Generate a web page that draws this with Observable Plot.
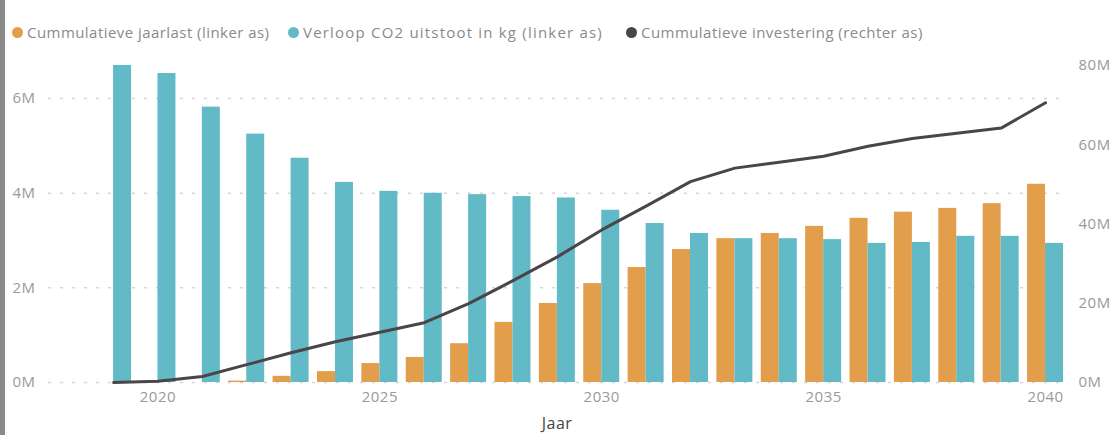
<!DOCTYPE html>
<html>
<head>
<meta charset="utf-8">
<script src="https://cdn.jsdelivr.net/npm/d3@7"></script>
<script src="https://cdn.jsdelivr.net/npm/@observablehq/plot@0.6"></script>
<style>
  html, body { margin: 0; padding: 0; background: #fff; }
  #wrap { position: relative; width: 1114px; height: 435px; overflow: hidden; font-family: "Open Sans", sans-serif; }
  #strip { position: absolute; left: 0; top: 0; width: 5px; height: 435px; background: #8a8a8a; }
  #legend { position: absolute; left: 12px; top: 22px; display: flex; align-items: center; font-size: 15px; letter-spacing: 0.45px; color: #8a8a8a; white-space: nowrap; }
  .item { display: flex; align-items: center; }
  .item:nth-child(1) { width: 276px; }
  .item:nth-child(2) { width: 338px; letter-spacing: 1.2px; }
  .dot { width: 11px; height: 11px; border-radius: 50%; margin-right: 4px; flex: none; }
  #chart { position: absolute; left: 0; top: 0; }
  #chart svg text { letter-spacing: 0.5px; }
</style>
</head>
<body>
<div id="wrap">
  <div id="chart"></div>
  <div id="strip"></div>
  <div id="legend"></div>
</div>
<script>
// ---- data ----
const years = [2019, 2020, 2021, 2022, 2023, 2024, 2025, 2026, 2027, 2028, 2029, 2030,
               2031, 2032, 2033, 2034, 2035, 2036, 2037, 2038, 2039, 2040];
// Cummulatieve jaarlast (linker as), in miljoen
const jaarlast = [0, 0, 0, 0.03, 0.13, 0.23, 0.40, 0.53, 0.82, 1.27, 1.67, 2.09,
                  2.43, 2.81, 3.04, 3.15, 3.30, 3.47, 3.60, 3.68, 3.78, 4.19];
// Verloop CO2 uitstoot in kg (linker as), in miljoen
const co2 = [6.70, 6.53, 5.82, 5.25, 4.74, 4.23, 4.04, 4.00, 3.97, 3.93, 3.90, 3.64,
             3.36, 3.15, 3.04, 3.04, 3.02, 2.94, 2.96, 3.09, 3.09, 2.94];
// Cummulatieve investering (rechter as), in miljoen
const investering = [0, 0.3, 1.5, 4.5, 7.5, 10.3, 12.7, 15.1, 19.9, 25.7, 31.7, 38.5,
                     44.5, 50.7, 54.1, 55.6, 57.1, 59.6, 61.6, 62.9, 64.2, 70.6];

const leftTicks = [0, 2, 4, 6];
const rightTicks = [0, 20, 40, 60, 80];
const xTicks = [2020, 2025, 2030, 2035, 2040];

const seriesNames = ["Cummulatieve jaarlast (linker as)", "Verloop CO2 uitstoot in kg (linker as)", "Cummulatieve investering (rechter as)"];
const colors = ["#E39E4B", "#62BAC7", "#4B4449"];

const leftMax = 6.70e6;
const rightMax = 80e6;
const k = leftMax / rightMax; // maps right-axis values onto the shared y scale

const rows = years.map((y, i) => ({
  year: y,
  jaarlast: jaarlast[i] * 1e6,
  co2: co2[i] * 1e6,
  inv: investering[i] * 1e6
}));

const chart = Plot.plot({
  width: 1114,
  height: 435,
  marginTop: 65,
  marginBottom: 53,
  marginLeft: 48,
  marginRight: 49,
  style: { fontFamily: "'Open Sans', sans-serif", fontSize: "15px", color: "#9a9a9a", background: "transparent" },
  x: { type: "band", domain: years, paddingInner: 0.189, paddingOuter: 0.5525, align: 0.96, round: false },
  y: { domain: [0, leftMax] },
  marks: [
    Plot.gridY(leftTicks.map(d => d * 1e6), { stroke: "#d6d6d6", strokeOpacity: 1, strokeWidth: 1.5, strokeDasharray: "3,9" }),
    Plot.barY(rows, { x: "year", y: "jaarlast", fill: colors[0], insetRight: 18 }),
    Plot.barY(rows, { x: "year", y: "co2", fill: colors[1], insetLeft: 18 }),
    Plot.line(rows, { x: "year", y: d => d.inv * k, stroke: colors[2], strokeWidth: 3 }),
    Plot.axisY({ anchor: "left", ticks: leftTicks.map(d => d * 1e6), tickFormat: d => d / 1e6 + "M", tickSize: 0, tickPadding: 13, label: null }),
    Plot.axisY({ anchor: "right", ticks: rightTicks.map(d => d * 1e6 * k), tickFormat: d => Math.round(d / k / 1e6) + "M", tickSize: 0, tickPadding: 13, label: null }),
    Plot.axisX({ ticks: xTicks, tickFormat: d => String(d), tickSize: 0, tickPadding: 9, label: null }),
    Plot.axisX({ ticks: [], label: "Jaar", labelAnchor: "center", labelArrow: "none", labelOffset: 46, fill: "#444", fontSize: 16 })
  ]
});
document.getElementById("chart").appendChild(chart);

const legend = document.getElementById("legend");
seriesNames.forEach((name, i) => {
  const item = document.createElement("div");
  item.className = "item";
  const dot = document.createElement("span");
  dot.className = "dot";
  dot.style.background = colors[i];
  const label = document.createElement("span");
  label.textContent = name;
  item.appendChild(dot);
  item.appendChild(label);
  legend.appendChild(item);
});
</script>
</body>
</html>
